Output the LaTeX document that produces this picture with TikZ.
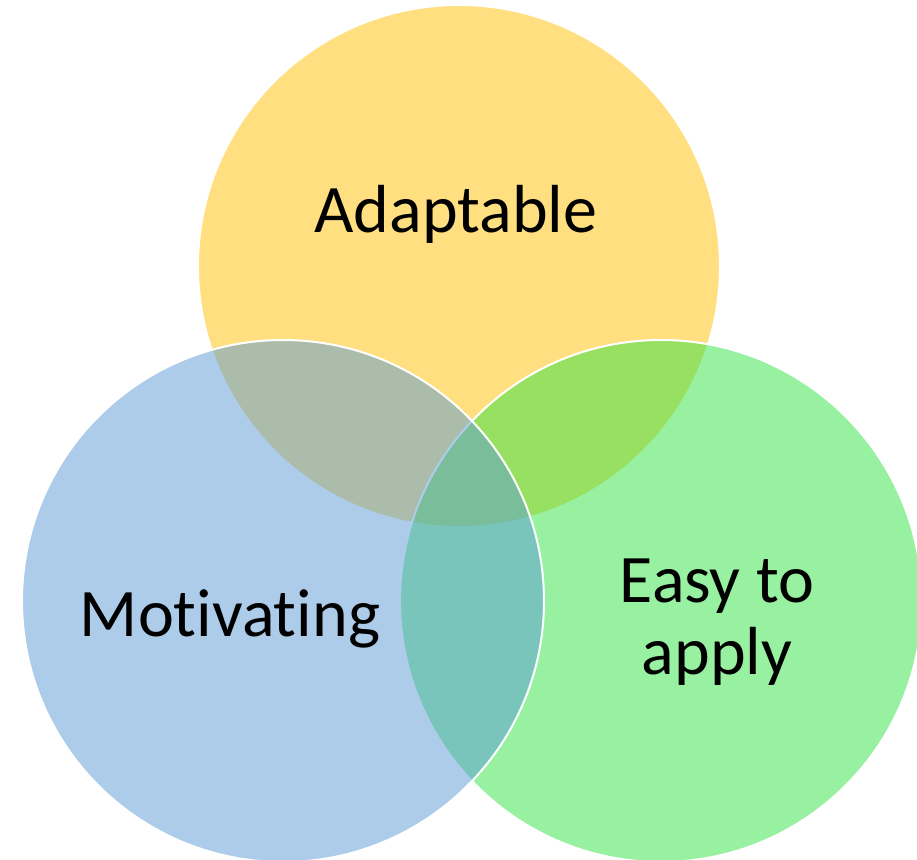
\documentclass[tikz,border=0pt]{standalone}
\usepackage{fontspec}
\setmainfont{Carlito}[Ligatures=NoCommon]
\definecolor{vennyellow}{HTML}{FFC000}
\definecolor{vennblue}{HTML}{5B9BD5}
\definecolor{venngreen}{HTML}{33E244}
\begin{document}
\begin{tikzpicture}[x=1pt,y=-1pt,
  venncircle/.style={draw=white, line width=2pt, fill opacity=0.5},
  vennlabel/.style={font=\fontsize{68}{72}\selectfont, text=black, inner sep=0pt, align=center}]
\useasboundingbox (0,0) rectangle (917,859);
\clip (0,0) rectangle (917,859);
\fill[white] (0,0) rectangle (917,859);
% three overlapping sets
\path[venncircle, fill=vennyellow] (459,266) circle[radius=261pt];
\path[venncircle, fill=venngreen] (661,601) circle[radius=261pt];
\path[venncircle, fill=vennblue] (283,601) circle[radius=261pt];
% set labels (base anchor of a two-line label is its last line)
\node[vennlabel, anchor=base] (adapt) at (456,232) {Adaptable};
\node[vennlabel, anchor=base] (motiv) at (230,636) {Motivating};
\node[vennlabel, anchor=base] (easy) at (717,674) {Easy to\\apply};
\end{tikzpicture}
\end{document}
